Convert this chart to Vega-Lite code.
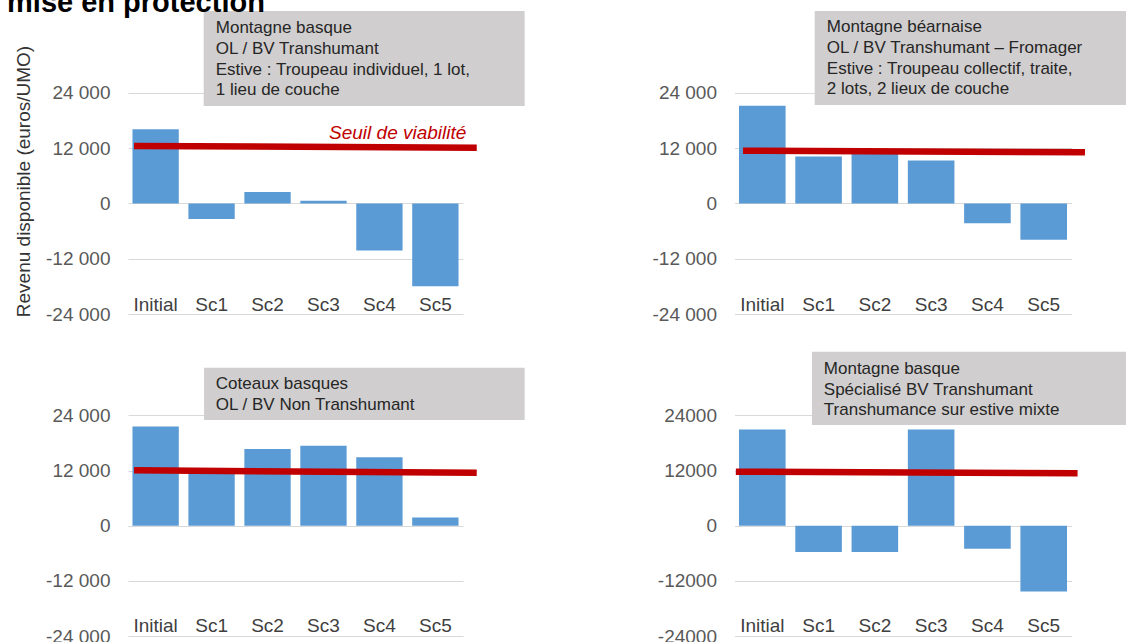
{
  "$schema": "https://vega.github.io/schema/vega-lite/v6.json",
  "padding": {"left": 7, "top": -12, "right": 0, "bottom": 0},
  "background": "white",
  "datasets": {
    "revenu": [
      {"panel": "p1", "scenario": "Initial", "revenu": 16100},
      {"panel": "p1", "scenario": "Sc1", "revenu": -3400},
      {"panel": "p1", "scenario": "Sc2", "revenu": 2500},
      {"panel": "p1", "scenario": "Sc3", "revenu": 600},
      {"panel": "p1", "scenario": "Sc4", "revenu": -10200},
      {"panel": "p1", "scenario": "Sc5", "revenu": -18000},
      {"panel": "p2", "scenario": "Initial", "revenu": 21200},
      {"panel": "p2", "scenario": "Sc1", "revenu": 10200},
      {"panel": "p2", "scenario": "Sc2", "revenu": 11500},
      {"panel": "p2", "scenario": "Sc3", "revenu": 9300},
      {"panel": "p2", "scenario": "Sc4", "revenu": -4300},
      {"panel": "p2", "scenario": "Sc5", "revenu": -7900},
      {"panel": "p3", "scenario": "Initial", "revenu": 21600},
      {"panel": "p3", "scenario": "Sc1", "revenu": 11800},
      {"panel": "p3", "scenario": "Sc2", "revenu": 16700},
      {"panel": "p3", "scenario": "Sc3", "revenu": 17400},
      {"panel": "p3", "scenario": "Sc4", "revenu": 14900},
      {"panel": "p3", "scenario": "Sc5", "revenu": 1800},
      {"panel": "p4", "scenario": "Initial", "revenu": 20900},
      {"panel": "p4", "scenario": "Sc1", "revenu": -5700},
      {"panel": "p4", "scenario": "Sc2", "revenu": -5700},
      {"panel": "p4", "scenario": "Sc3", "revenu": 20900},
      {"panel": "p4", "scenario": "Sc4", "revenu": -5000},
      {"panel": "p4", "scenario": "Sc5", "revenu": -14300}
    ]
  },
  "columns": 2,
  "bounds": "flush",
  "spacing": {"row": 37, "column": 271.5},
  "concat": [
    {
      "width": 335, "height": 304,
      "resolve": {"scale": {"x": "independent"}},
      "layer": [
        {
          "data": {"name": "revenu"},
          "transform": [{"filter": "datum.panel === 'p1'"}],
          "mark": {"type": "bar", "color": "#5b9bd5"},
          "encoding": {
            "x": {"field": "scenario", "type": "nominal", "sort": ["Initial", "Sc1", "Sc2", "Sc3", "Sc4", "Sc5"],
              "scale": {"paddingInner": 0.172, "paddingOuter": 0.08},
              "axis": {"title": null, "labelAngle": 0, "labelFontSize": 19, "labelColor": "#404040", "labelPadding": -4, "labelBaseline": "alphabetic", "ticks": false, "tickSize": 0, "domain": false, "grid": false}},
            "y": {"field": "revenu", "type": "quantitative",
              "scale": {"domain": [-24000, 42000], "nice": false, "zero": false},
              "axis": {"values": [-24000, -12000, 0, 12000, 24000], "labelExpr": "replace(replace(format(datum.value, ','), ',', ' '), '\u2212', '-')",
                "labelFontSize": 19, "labelColor": "#595959", "labelPadding": 18, "ticks": false, "tickSize": 0, "domain": false,
                "grid": true, "gridColor": "#d9d9d9", "gridWidth": 1.2,
                "title": "Revenu disponible (euros/UMO)", "titleFontSize": 19, "titleFontWeight": "normal", "titleColor": "#333333", "titlePadding": 12, "titleAlign": "center", "titleAnchor": "middle", "titleY": 171}},
            "y2": {"datum": 0}
          }
        },
        {
          "data": {"values": [{}]},
          "mark": {"type": "rect", "color": "#d0cece"},
          "encoding": {
            "x": {"datum": 22.6, "type": "quantitative", "scale": {"domain": [0, 100], "nice": false, "zero": false}, "axis": null},
            "x2": {"datum": 118.4},
            "y": {"datum": 41783, "type": "quantitative"},
            "y2": {"datum": 21158}
          }
        },
        {
          "data": {"values": [{}]},
          "mark": {"type": "text", "text": ["Montagne basque", "OL / BV Transhumant", "Estive : Troupeau individuel,  1 lot,", "1 lieu de couche"], "align": "left", "baseline": "alphabetic", "fontSize": 17, "lineHeight": 20.7, "color": "#262626"},
          "encoding": {
            "x": {"datum": 26.2, "type": "quantitative", "scale": {"domain": [0, 100], "nice": false, "zero": false}, "axis": null},
            "y": {"datum": 36942, "type": "quantitative"}
          }
        },
        {
          "data": {"values": [{}]},
          "mark": {"type": "rule", "color": "#c00000", "strokeWidth": 6.5},
          "encoding": {
            "x": {"datum": 1.8, "type": "quantitative", "scale": {"domain": [0, 100], "nice": false, "zero": false}, "axis": null},
            "x2": {"datum": 104.1},
            "y": {"datum": 12474, "type": "quantitative"},
            "y2": {"datum": 12105}
          }
        },
        {
          "data": {"values": [{}]},
          "mark": {"type": "text", "text": "Seuil de viabilité", "align": "right", "baseline": "alphabetic", "fontSize": 19, "fontStyle": "italic", "color": "#c00000"},
          "encoding": {
            "x": {"datum": 101.0, "type": "quantitative", "scale": {"domain": [0, 100], "nice": false, "zero": false}, "axis": null},
            "y": {"datum": 13885, "type": "quantitative"}
          }
        },
        {
          "data": {"values": [{}]},
          "mark": {"type": "text", "text": "mise en protection", "align": "left", "baseline": "alphabetic", "fontSize": 29, "fontWeight": "bold", "color": "#000000"},
          "encoding": {
            "x": {"datum": -36.1, "type": "quantitative", "scale": {"domain": [0, 100], "nice": false, "zero": false}, "axis": null},
            "y": {"datum": 41566, "type": "quantitative"}
          }
        }
      ]
    },
    {
      "width": 337, "height": 304,
      "resolve": {"scale": {"x": "independent"}},
      "layer": [
        {
          "data": {"name": "revenu"},
          "transform": [{"filter": "datum.panel === 'p2'"}],
          "mark": {"type": "bar", "color": "#5b9bd5"},
          "encoding": {
            "x": {"field": "scenario", "type": "nominal", "sort": ["Initial", "Sc1", "Sc2", "Sc3", "Sc4", "Sc5"],
              "scale": {"paddingInner": 0.172, "paddingOuter": 0.08},
              "axis": {"title": null, "labelAngle": 0, "labelFontSize": 19, "labelColor": "#404040", "labelPadding": -4, "labelBaseline": "alphabetic", "ticks": false, "tickSize": 0, "domain": false, "grid": false}},
            "y": {"field": "revenu", "type": "quantitative",
              "scale": {"domain": [-24000, 42000], "nice": false, "zero": false},
              "axis": {"values": [-24000, -12000, 0, 12000, 24000], "labelExpr": "replace(replace(format(datum.value, ','), ',', ' '), '\u2212', '-')",
                "labelFontSize": 19, "labelColor": "#595959", "labelPadding": 18, "ticks": false, "tickSize": 0, "domain": false,
                "grid": true, "gridColor": "#d9d9d9", "gridWidth": 1.2, "title": null}},
            "y2": {"datum": 0}
          }
        },
        {
          "data": {"values": [{}]},
          "mark": {"type": "rect", "color": "#d0cece"},
          "encoding": {
            "x": {"datum": 23.8, "type": "quantitative", "scale": {"domain": [0, 100], "nice": false, "zero": false}, "axis": null},
            "x2": {"datum": 125},
            "y": {"datum": 41783, "type": "quantitative"},
            "y2": {"datum": 21375}
          }
        },
        {
          "data": {"values": [{}]},
          "mark": {"type": "text", "text": ["Montagne béarnaise", "OL / BV Transhumant  – Fromager", "Estive : Troupeau collectif, traite,", "2 lots, 2 lieux de couche"], "align": "left", "baseline": "alphabetic", "fontSize": 17, "lineHeight": 20.7, "color": "#262626"},
          "encoding": {
            "x": {"datum": 27.4, "type": "quantitative", "scale": {"domain": [0, 100], "nice": false, "zero": false}, "axis": null},
            "y": {"datum": 37160, "type": "quantitative"}
          }
        },
        {
          "data": {"values": [{}]},
          "mark": {"type": "rule", "color": "#c00000", "strokeWidth": 6.5},
          "encoding": {
            "x": {"datum": 2.5, "type": "quantitative", "scale": {"domain": [0, 100], "nice": false, "zero": false}, "axis": null},
            "x2": {"datum": 104.0},
            "y": {"datum": 11454, "type": "quantitative"},
            "y2": {"datum": 11106}
          }
        }
      ]
    },
    {
      "width": 335, "height": 285,
      "resolve": {"scale": {"x": "independent"}},
      "layer": [
        {
          "data": {"name": "revenu"},
          "transform": [{"filter": "datum.panel === 'p3'"}],
          "mark": {"type": "bar", "color": "#5b9bd5"},
          "encoding": {
            "x": {"field": "scenario", "type": "nominal", "sort": ["Initial", "Sc1", "Sc2", "Sc3", "Sc4", "Sc5"],
              "scale": {"paddingInner": 0.172, "paddingOuter": 0.08},
              "axis": {"title": null, "labelAngle": 0, "labelFontSize": 19, "labelColor": "#404040", "labelPadding": -5, "labelBaseline": "alphabetic", "ticks": false, "tickSize": 0, "domain": false, "grid": false}},
            "y": {"field": "revenu", "type": "quantitative",
              "scale": {"domain": [-24000, 38000], "nice": false, "zero": false},
              "axis": {"values": [-24000, -12000, 0, 12000, 24000], "labelExpr": "replace(replace(format(datum.value, ','), ',', ' '), '\u2212', '-')",
                "labelFontSize": 19, "labelColor": "#595959", "labelPadding": 18, "ticks": false, "tickSize": 0, "domain": false,
                "grid": true, "gridColor": "#d9d9d9", "gridWidth": 1.2, "title": null}},
            "y2": {"datum": 0}
          }
        },
        {
          "data": {"values": [{}]},
          "mark": {"type": "rect", "color": "#d0cece"},
          "encoding": {
            "x": {"datum": 22.7, "type": "quantitative", "scale": {"domain": [0, 100], "nice": false, "zero": false}, "axis": null},
            "x2": {"datum": 118.4},
            "y": {"datum": 34368, "type": "quantitative"},
            "y2": {"datum": 22989}
          }
        },
        {
          "data": {"values": [{}]},
          "mark": {"type": "text", "text": ["Coteaux basques", "OL / BV Non Transhumant"], "align": "left", "baseline": "alphabetic", "fontSize": 17, "lineHeight": 20.7, "color": "#262626"},
          "encoding": {
            "x": {"datum": 26.2, "type": "quantitative", "scale": {"domain": [0, 100], "nice": false, "zero": false}, "axis": null},
            "y": {"datum": 29668, "type": "quantitative"}
          }
        },
        {
          "data": {"values": [{}]},
          "mark": {"type": "rule", "color": "#c00000", "strokeWidth": 6.5},
          "encoding": {
            "x": {"datum": 1.8, "type": "quantitative", "scale": {"domain": [0, 100], "nice": false, "zero": false}, "axis": null},
            "x2": {"datum": 104.1},
            "y": {"datum": 12047, "type": "quantitative"},
            "y2": {"datum": 11525}
          }
        }
      ]
    },
    {
      "width": 337, "height": 285,
      "resolve": {"scale": {"x": "independent"}},
      "layer": [
        {
          "data": {"name": "revenu"},
          "transform": [{"filter": "datum.panel === 'p4'"}],
          "mark": {"type": "bar", "color": "#5b9bd5"},
          "encoding": {
            "x": {"field": "scenario", "type": "nominal", "sort": ["Initial", "Sc1", "Sc2", "Sc3", "Sc4", "Sc5"],
              "scale": {"paddingInner": 0.172, "paddingOuter": 0.08},
              "axis": {"title": null, "labelAngle": 0, "labelFontSize": 19, "labelColor": "#404040", "labelPadding": -5, "labelBaseline": "alphabetic", "ticks": false, "tickSize": 0, "domain": false, "grid": false}},
            "y": {"field": "revenu", "type": "quantitative",
              "scale": {"domain": [-24000, 38000], "nice": false, "zero": false},
              "axis": {"values": [-24000, -12000, 0, 12000, 24000], "labelExpr": "replace(format(datum.value, 'd'), '\u2212', '-')",
                "labelFontSize": 19, "labelColor": "#595959", "labelPadding": 18, "ticks": false, "tickSize": 0, "domain": false,
                "grid": true, "gridColor": "#d9d9d9", "gridWidth": 1.2, "title": null}},
            "y2": {"datum": 0}
          }
        },
        {
          "data": {"values": [{}]},
          "mark": {"type": "rect", "color": "#d0cece"},
          "encoding": {
            "x": {"datum": 23.0, "type": "quantitative", "scale": {"domain": [0, 100], "nice": false, "zero": false}, "axis": null},
            "x2": {"datum": 125},
            "y": {"datum": 37848, "type": "quantitative"},
            "y2": {"datum": 21902}
          }
        },
        {
          "data": {"values": [{}]},
          "mark": {"type": "text", "text": ["Montagne basque", "Spécialisé BV Transhumant", "Transhumance  sur estive mixte"], "align": "left", "baseline": "alphabetic", "fontSize": 17, "lineHeight": 20.7, "color": "#262626"},
          "encoding": {
            "x": {"datum": 26.5, "type": "quantitative", "scale": {"domain": [0, 100], "nice": false, "zero": false}, "axis": null},
            "y": {"datum": 32996, "type": "quantitative"}
          }
        },
        {
          "data": {"values": [{}]},
          "mark": {"type": "rule", "color": "#c00000", "strokeWidth": 6.5},
          "encoding": {
            "x": {"datum": 0.4, "type": "quantitative", "scale": {"domain": [0, 100], "nice": false, "zero": false}, "axis": null},
            "x2": {"datum": 101.8},
            "y": {"datum": 11742, "type": "quantitative"},
            "y2": {"datum": 11394}
          }
        }
      ]
    }
  ],
  "config": {
    "font": "Liberation Sans",
    "view": {"stroke": null},
    "axis": {"labelFont": "Liberation Sans", "titleFont": "Liberation Sans", "titleFontSize": 19, "titleFontWeight": "normal", "titleColor": "#333333"},
    "text": {"font": "Liberation Sans"}
  }
}
